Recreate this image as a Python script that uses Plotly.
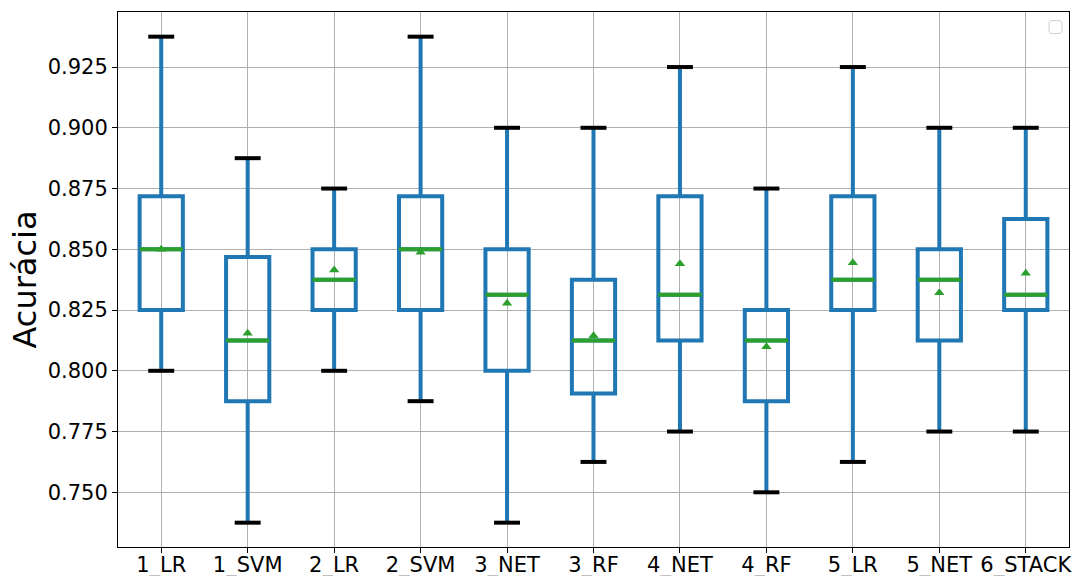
import plotly.graph_objects as go

categories = ["1_LR", "1_SVM", "2_LR", "2_SVM", "3_NET", "3_RF", "4_NET", "4_RF", "5_LR", "5_NET", "6_STACK"]
mins    = [0.8000, 0.7375, 0.8000, 0.7875, 0.7375, 0.7625, 0.7750, 0.7500, 0.7625, 0.7750, 0.7750]
q1s     = [0.8250, 0.7875, 0.8250, 0.8250, 0.8000, 0.790625, 0.8125, 0.7875, 0.8250, 0.8125, 0.8250]
medians = [0.8500, 0.8125, 0.8375, 0.8500, 0.83125, 0.8125, 0.83125, 0.8125, 0.8375, 0.8375, 0.83125]
q3s     = [0.871875, 0.846875, 0.8500, 0.871875, 0.8500, 0.8375, 0.871875, 0.8250, 0.871875, 0.8500, 0.8625]
maxs    = [0.9375, 0.8875, 0.8750, 0.9375, 0.9000, 0.9000, 0.9250, 0.8750, 0.9250, 0.9000, 0.9000]
means   = [0.8500, 0.8154, 0.8415, 0.8488, 0.8278, 0.8144, 0.8440, 0.8099, 0.8445, 0.8321, 0.8401]

BLUE = "#1f77b4"
GREEN = "#2ca02c"
pos = list(range(1, len(categories) + 1))
BOXW = 0.5
CAPW = 0.3

fig = go.Figure()
fig.add_trace(go.Box(
    x=pos, q1=q1s, median=medians, q3=q3s, lowerfence=mins, upperfence=maxs,
    width=BOXW, whiskerwidth=0, line=dict(color=BLUE, width=4),
    fillcolor="rgba(0,0,0,0)", boxpoints=False, showlegend=False, hoverinfo="skip",
))

# caps
cx, cy = [], []
for p, lo, hi in zip(pos, mins, maxs):
    cx += [p - CAPW / 2, p + CAPW / 2, None, p - CAPW / 2, p + CAPW / 2, None]
    cy += [lo, lo, None, hi, hi, None]
fig.add_trace(go.Scatter(x=cx, y=cy, mode="lines", line=dict(color="black", width=4),
                         showlegend=False, hoverinfo="skip"))

# medians
mx, my = [], []
for p, m in zip(pos, medians):
    mx += [p - BOXW / 2, p + BOXW / 2, None]
    my += [m, m, None]
fig.add_trace(go.Scatter(x=mx, y=my, mode="lines", line=dict(color=GREEN, width=4),
                         showlegend=False, hoverinfo="skip"))

# means
fig.add_trace(go.Scatter(x=pos, y=means, mode="markers",
                         marker=dict(symbol="triangle-up", size=9, color=GREEN),
                         showlegend=False, hoverinfo="skip"))

L, R, T, B = 118, 11, 12, 29
W, H = 1080, 576
pw, ph = W - L - R, H - T - B

fig.update_layout(
    width=W, height=H,
    margin=dict(l=L, r=R, t=T, b=B),
    paper_bgcolor="white", plot_bgcolor="white",
    font=dict(family="DejaVu Sans", size=21, color="black"),
    xaxis=dict(range=[0.5, len(categories) + 0.5], tickmode="array", tickvals=pos,
               ticktext=categories, showgrid=True, gridcolor="#b0b0b0", gridwidth=1,
               showline=True, linecolor="black", linewidth=1, mirror=True,
               ticks="outside", ticklen=5, tickcolor="black", zeroline=False,
               tickfont=dict(size=21), automargin=False, ticklabelstandoff=-6),
    yaxis=dict(range=[0.72749, 0.94765], tick0=0.75, dtick=0.025, tickformat=".3f",
               showgrid=True, gridcolor="#b0b0b0", gridwidth=1,
               showline=True, linecolor="black", linewidth=1, mirror=True,
               ticks="outside", ticklen=5, tickcolor="black", zeroline=False,
               tickfont=dict(size=21), automargin=False),
    annotations=[dict(text="Acurácia", textangle=-90, xref="paper", yref="paper",
                      x=(24 - L) / pw, y=0.5, xanchor="center", yanchor="middle",
                      showarrow=False, font=dict(size=32, color="black"))],
    shapes=[dict(type="path", xref="paper", yref="paper",
                 path=(lambda x0, x1, y0, y1, r: (
                     f"M {x0 + r[0]} {y0} L {x1 - r[0]} {y0} Q {x1} {y0} {x1} {y0 + r[1]} "
                     f"L {x1} {y1 - r[1]} Q {x1} {y1} {x1 - r[0]} {y1} L {x0 + r[0]} {y1} "
                     f"Q {x0} {y1} {x0} {y1 - r[1]} L {x0} {y0 + r[1]} Q {x0} {y0} {x0 + r[0]} {y0} Z"))(
                     (1049 - L) / pw, (1062 - L) / pw, (547 - 33.5) / ph, (547 - 20.5) / ph,
                     (3 / pw, 3 / ph)),
                 line=dict(color="#d0d0d0", width=1), fillcolor="white")],
)

fig.write_html("out.html")
